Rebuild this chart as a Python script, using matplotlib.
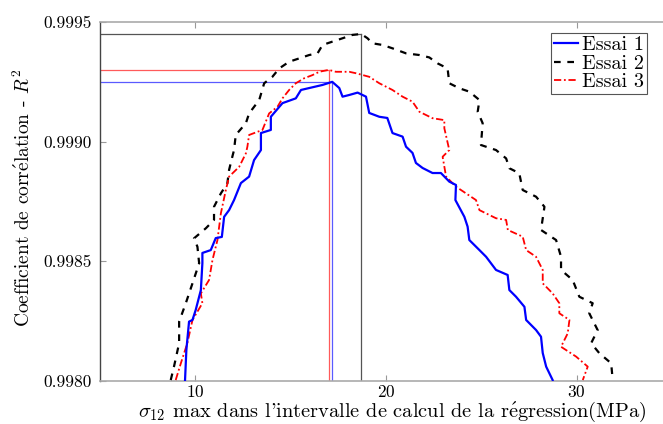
import matplotlib
matplotlib.use("Agg")
import matplotlib.pyplot as plt

# =========================
# Data
# =========================
essai1_x = [9.46, 9.53, 9.67, 9.85, 10.02, 10.29, 10.37, 10.37, 10.81, 11.07, 11.39,
            11.51, 11.77, 12.03, 12.39, 12.82, 13.08, 13.44, 13.44, 13.96, 13.96,
            14.57, 15.27, 15.54, 15.97, 16.67, 17.18, 17.55, 17.72, 18.07, 18.51,
            18.95, 19.12, 19.65, 20.07, 20.34, 20.87, 21.05, 21.39, 21.57, 21.92,
            22.44, 22.88, 23.32, 23.67, 23.64, 24.11, 24.28, 24.37, 24.90, 25.25,
            25.77, 26.38, 26.47, 26.82, 27.26, 27.35, 27.87, 28.13, 28.22, 28.40, 28.74]
essai1_y = [0.998004, 0.998130, 0.998248, 0.998255, 0.998297, 0.998380, 0.998493,
            0.998535, 0.998547, 0.998597, 0.998602, 0.998686, 0.998714, 0.998756,
            0.998827, 0.998854, 0.998923, 0.998965, 0.999036, 0.999049, 0.999104,
            0.999161, 0.999181, 0.999216, 0.999224, 0.999237, 0.999250, 0.999224,
            0.999188, 0.999195, 0.999205, 0.999188, 0.999120, 0.999104, 0.999099,
            0.999036, 0.999021, 0.998979, 0.998953, 0.998911, 0.998890, 0.998869,
            0.998869, 0.998833, 0.998819, 0.998756, 0.998686, 0.998645, 0.998589,
            0.998547, 0.998519, 0.998464, 0.998443, 0.998380, 0.998352, 0.998310,
            0.998255, 0.998213, 0.998185, 0.998117, 0.998060, 0.998004]

essai2_x = [8.71, 8.88, 9.15, 9.15, 9.50, 9.85, 10.20, 10.11, 9.93, 10.55, 10.98,
            10.98, 11.34, 11.68, 11.77, 11.94, 12.03, 12.12, 12.65, 12.82, 13.35,
            13.61, 14.04, 14.40, 14.92, 15.45, 15.97, 16.41, 16.67, 17.19, 17.72,
            18.24, 18.70, 19.03, 19.29, 19.82, 20.34, 21.05, 21.75, 22.27, 22.71,
            23.23, 23.32, 23.85, 24.37, 24.90, 24.81, 25.07, 24.98, 25.77, 26.30,
            26.47, 26.99, 27.17, 27.87, 28.31, 28.13, 28.92, 29.18, 29.18, 29.79,
            30.14, 30.84, 30.66, 31.10, 30.76, 31.19, 31.81, 31.89]
essai2_y = [0.998004, 0.998060, 0.998158, 0.998248, 0.998325, 0.998408, 0.998492,
            0.998561, 0.998596, 0.998638, 0.998673, 0.998728, 0.998784, 0.998826,
            0.998882, 0.998937, 0.998965, 0.999028, 0.999077, 0.999118, 0.999174,
            0.999244, 0.999271, 0.999306, 0.999334, 0.999348, 0.999362, 0.999369,
            0.999404, 0.999418, 0.999432, 0.999446, 0.999450, 0.999432, 0.999411,
            0.999404, 0.999390, 0.999369, 0.999362, 0.999352, 0.999327, 0.999306,
            0.999244, 0.999223, 0.999209, 0.999174, 0.999125, 0.999077, 0.998986,
            0.998965, 0.998930, 0.998889, 0.998868, 0.998798, 0.998770, 0.998728,
            0.998631, 0.998589, 0.998519, 0.998464, 0.998422, 0.998352, 0.998325,
            0.998283, 0.998213, 0.998158, 0.998116, 0.998074, 0.998004]

essai3_x = [8.97, 9.24, 9.58, 9.85, 10.37, 10.29, 10.72, 10.90, 11.16, 11.34, 11.60,
            11.77, 12.30, 12.65, 12.73, 12.82, 13.52, 13.87, 14.31, 14.57, 14.92,
            15.27, 15.71, 16.14, 16.50, 17.00, 17.37, 18.07, 18.42, 19.12, 19.65,
            20.34, 20.87, 21.39, 21.75, 22.44, 23.06, 23.06, 23.32, 22.97, 23.15,
            23.67, 24.72, 24.90, 25.77, 26.30, 26.39, 27.17, 27.35, 27.87, 28.22,
            28.22, 28.74, 29.09, 29.09, 29.62, 29.53, 29.18, 29.97, 30.58, 30.32]
essai3_y = [0.998004, 0.998074, 0.998158, 0.998255, 0.998325, 0.998366, 0.998422,
            0.998506, 0.998589, 0.998701, 0.998798, 0.998854, 0.998895, 0.998951,
            0.998979, 0.999028, 0.999049, 0.999118, 0.999146, 0.999181, 0.999216,
            0.999244, 0.999265, 0.999278, 0.999292, 0.999300, 0.999292, 0.999292,
            0.999286, 0.999271, 0.999244, 0.999216, 0.999188, 0.999167, 0.999125,
            0.999098, 0.999090, 0.999056, 0.998965, 0.998937, 0.998854, 0.998812,
            0.998756, 0.998714, 0.998680, 0.998673, 0.998631, 0.998603, 0.998547,
            0.998519, 0.998464, 0.998408, 0.998366, 0.998325, 0.998283, 0.998255,
            0.998199, 0.998143, 0.998102, 0.998060, 0.998004]

# maxima marked by the guide lines
max_x = {"Essai 1": 17.18, "Essai 2": 18.70, "Essai 3": 17.00}
max_r2 = {"Essai 1": 0.99925, "Essai 2": 0.99945, "Essai 3": 0.99930}

# =========================
# Style
# =========================
plt.rcParams["font.family"] = ["cmr10", "DejaVu Serif"]
plt.rcParams["mathtext.fontset"] = "cm"
plt.rcParams["axes.formatter.use_mathtext"] = True
plt.rcParams["font.size"] = 12.5

fig = plt.figure(figsize=(6.63, 4.24), dpi=100)
ax = fig.add_axes([100 / 663, 1 - 381 / 424, 572 / 663, 359 / 424])

x_min, x_max = 5, 35
y_min, y_max = 0.9980, 0.9995

# guide lines (horizontal from the axis, vertical from the bottom)
guide_colors = {"Essai 1": "#5a5aff", "Essai 2": "#555555", "Essai 3": "#ff5a5a"}
for name in ["Essai 2", "Essai 3", "Essai 1"]:
    ax.plot([x_min, max_x[name]], [max_r2[name], max_r2[name]],
            color=guide_colors[name], lw=0.9, zorder=1)
    ax.plot([max_x[name], max_x[name]], [y_min, max_r2[name]],
            color=guide_colors[name], lw=0.9, zorder=1)

ax.plot(essai1_x, essai1_y, color="#0000ff", lw=1.6, label="Essai 1", zorder=4)
ax.plot(essai2_x, essai2_y, color="black", lw=1.6, ls=(0, (3, 3)),
        label="Essai 2", zorder=3)
ax.plot(essai3_x, essai3_y, color="#ff0000", lw=1.3, ls=(0, (4, 1.5, 1, 1.5)),
        label="Essai 3", zorder=3)

ax.set_xlim(x_min, x_max)
ax.set_ylim(y_min, y_max)
ax.set_xticks([10, 20, 30])
ax.set_yticks([0.9980, 0.9985, 0.9990, 0.9995])
ax.set_yticklabels(["0.9980", "0.9985", "0.9990", "0.9995"])

ax.tick_params(direction="in", top=True, right=True, length=4, width=0.8,
               color="#999999", pad=6)
ax.tick_params(axis="x", pad=2)
for side in ["top", "bottom", "right"]:
    ax.spines[side].set_color("#aaaaaa")
    ax.spines[side].set_linewidth(1.2)
ax.spines["left"].set_color("#444444")
ax.spines["left"].set_linewidth(1.0)

# cmr10 has no é, so that letter goes through mathtext (cm fontset)
fig.text(392 / 663, 1 - 417 / 424,
         r"$\sigma_{12}$ max dans l'intervalle de calcul de la r$\mathrm{\acute{e}}$gression(MPa)",
         ha="center", va="baseline", fontsize=14.7)
fig.text(23 / 663, 1 - 198 / 424,
         r"Coefficient de corr$\mathrm{\acute{e}}$lation - $R^2$",
         ha="center", va="center", rotation=90, fontsize=14)

leg = ax.legend(loc="upper right", bbox_to_anchor=(647 / 663, 1 - 33 / 424),
                bbox_transform=fig.transFigure, borderaxespad=0, fancybox=False,
                framealpha=1, edgecolor="#555555", handlelength=1.2, fontsize=14.5,
                handletextpad=0.2, borderpad=0.15, labelspacing=0.02)
leg.get_frame().set_linewidth(0.8)

fig.savefig("out.png", dpi=100)
